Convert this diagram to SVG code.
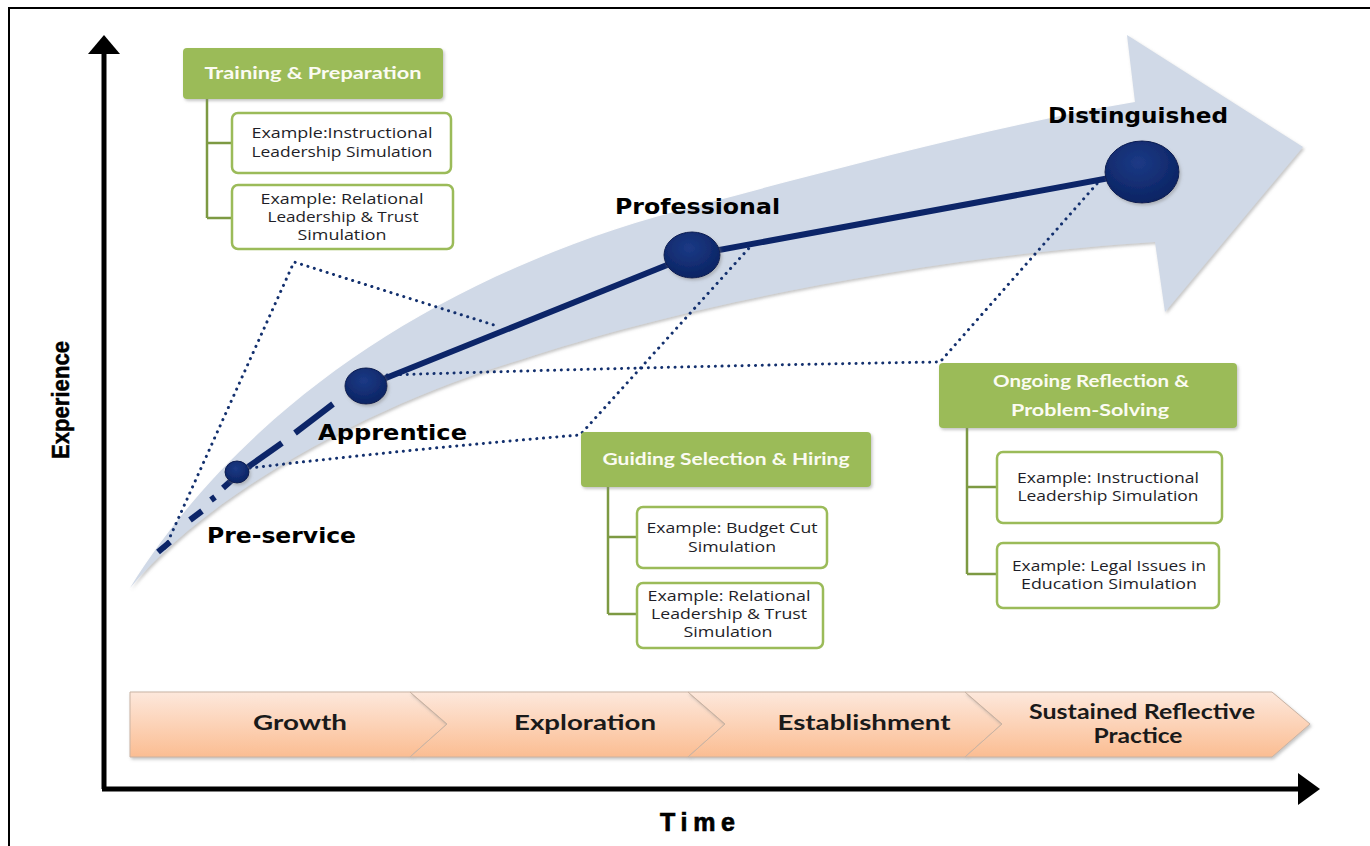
<svg xmlns="http://www.w3.org/2000/svg" width="1370" height="846" viewBox="0 0 1370 846">
<defs>
<style>
.hdr{fill:#9bbb59;}
.hdrt{font-family:Lato,"Open Sans",sans-serif;font-weight:bold;font-size:17px;fill:#fbfbf2;text-anchor:middle;}
.box{fill:#ffffff;stroke:#9bbb59;stroke-width:2.5;}
.ext{font-family:"Open Sans",Lato,sans-serif;font-size:14px;fill:#1e1e28;text-anchor:middle;}
.tree{fill:none;stroke:#7d9a43;stroke-width:2.5;}
.lbl{font-family:"DejaVu Sans",Verdana,sans-serif;font-weight:bold;font-size:21px;fill:#000;}
.dot{fill:none;stroke:#13306e;stroke-width:3;stroke-linecap:round;stroke-dasharray:0.1 6.6;}
.path{stroke:#0c2568;stroke-width:6;stroke-linecap:butt;fill:none;}
.chev{fill:url(#peach);stroke:#c9b3a3;stroke-width:1;}
.ct{font-family:Lato,"Open Sans",sans-serif;font-weight:bold;font-size:20px;fill:#1a1a1a;text-anchor:middle;}
.node{fill:url(#navy);stroke:#081d52;stroke-width:1;}
</style>
<linearGradient id="peach" x1="0" y1="0" x2="0" y2="1">
<stop offset="0" stop-color="#fde8dc"/>
<stop offset="1" stop-color="#fbbd92"/>
</linearGradient>
<radialGradient id="navy" cx="0.45" cy="0.35" r="0.7">
<stop offset="0" stop-color="#1c3a86"/>
<stop offset="1" stop-color="#0a2260"/>
</radialGradient>
<filter id="sh" x="-10%" y="-10%" width="130%" height="130%">
<feDropShadow dx="1.5" dy="2" stdDeviation="1.5" flood-color="#808080" flood-opacity="0.45"/>
</filter>
</defs>
<rect width="1370" height="846" fill="#ffffff"/>
<!-- frame -->
<path d="M9,846 L9,8 L1370,8" fill="none" stroke="#000" stroke-width="2"/>
<!-- axes -->
<g id="axes">
<line x1="104" y1="52" x2="104" y2="789" stroke="#000" stroke-width="5"/>
<polygon points="104,35 120,54 88,54" fill="#000"/>
<line x1="102" y1="789" x2="1302" y2="789" stroke="#000" stroke-width="5"/>
<polygon points="1320,789 1298,773 1298,805" fill="#000"/>
<text x="0" y="0" transform="translate(69,400) rotate(-90)" font-family="'Liberation Sans',Arial,sans-serif" font-weight="bold" font-size="23" text-anchor="middle" stroke="#000" stroke-width="0.5" textLength="118" lengthAdjust="spacingAndGlyphs">Experience</text>
<text x="660" y="831" font-family="'Liberation Sans',Arial,sans-serif" font-weight="bold" font-size="25" stroke="#000" stroke-width="0.7" textLength="75" lengthAdjust="spacing">Time</text>
</g>
<!-- big curved arrow -->
<g id="band">
<path d="M130,588 C240,410 440,270 700,205 C850,165 1000,125 1135,102 L1127,35 L1303,147 L1165,312 L1155,242 C950,255 700,300 520,360 C400,395 220,480 130,588 Z" fill="#d0d9e7" filter="url(#sh)"/>
</g>
<!-- connectors -->
<g id="connectors">
<polyline class="dot" points="165,548 294,262 497,326"/>
<path class="dot" d="M250,468 Q420,448 580,435 L750,247"/>
<path class="dot" d="M387,375 Q680,366 940,362 L1102,178"/>
<line class="path" x1="158" y1="552" x2="170" y2="542"/>
<line class="path" x1="190" y1="520" x2="202" y2="511"/>
<line class="path" x1="211" y1="500" x2="215" y2="497"/>
<line class="path" x1="223" y1="488" x2="232" y2="480"/>
<line class="path" x1="248" y1="467" x2="282" y2="443"/>
<line class="path" x1="295" y1="433" x2="333" y2="404"/>
<line class="path" x1="366" y1="386" x2="692" y2="255"/>
<line class="path" x1="692" y1="255" x2="1142" y2="172"/>
</g>
<!-- milestone nodes -->
<g id="preservice">
<ellipse class="node" cx="237" cy="472" rx="12" ry="11" filter="url(#sh)"/>
<text class="lbl" x="207" y="543" textLength="149" lengthAdjust="spacingAndGlyphs">Pre-service</text>
</g>
<g id="apprentice">
<ellipse class="node" cx="366" cy="386" rx="21" ry="18" filter="url(#sh)"/>
<text class="lbl" x="318" y="440" textLength="149" lengthAdjust="spacingAndGlyphs">Apprentice</text>
</g>
<g id="professional">
<ellipse class="node" cx="692" cy="255" rx="28" ry="23" filter="url(#sh)"/>
<text class="lbl" x="615" y="214" textLength="165" lengthAdjust="spacingAndGlyphs">Professional</text>
</g>
<g id="distinguished">
<ellipse class="node" cx="1142" cy="172" rx="37" ry="31" filter="url(#sh)"/>
<text class="lbl" x="1048" y="123" textLength="180" lengthAdjust="spacingAndGlyphs">Distinguished</text>
</g>
<!-- Training & Preparation -->
<g id="training">
<path class="tree" d="M207,99 V218 M207,143 H232 M207,218 H232"/>
<rect class="hdr" x="183" y="48" width="260" height="51" rx="4" filter="url(#sh)"/>
<text class="hdrt" x="313" y="79" textLength="217" lengthAdjust="spacingAndGlyphs">Training &amp; Preparation</text>
<rect class="box" x="232" y="113" width="219" height="60" rx="6"/>
<text class="ext" x="342" y="138" textLength="181" lengthAdjust="spacingAndGlyphs">Example:Instructional</text>
<text class="ext" x="342" y="157" textLength="181" lengthAdjust="spacingAndGlyphs">Leadership Simulation</text>
<rect class="box" x="232" y="185" width="221" height="64" rx="6"/>
<text class="ext" x="342" y="204" textLength="163" lengthAdjust="spacingAndGlyphs">Example: Relational</text>
<text class="ext" x="343" y="222" textLength="151" lengthAdjust="spacingAndGlyphs">Leadership &amp; Trust</text>
<text class="ext" x="342" y="240" textLength="89" lengthAdjust="spacingAndGlyphs">Simulation</text>
</g>
<!-- Guiding Selection & Hiring -->
<g id="guiding">
<path class="tree" d="M608,487 V614 M608,537 H637 M608,614 H637"/>
<rect class="hdr" x="581" y="432" width="290" height="55" rx="4" filter="url(#sh)"/>
<text class="hdrt" x="726" y="465" textLength="247" lengthAdjust="spacingAndGlyphs">Guiding Selection &amp; Hiring</text>
<rect class="box" x="637" y="507" width="190" height="61" rx="6"/>
<text class="ext" x="732" y="533" textLength="171" lengthAdjust="spacingAndGlyphs">Example: Budget Cut</text>
<text class="ext" x="732" y="552" textLength="88" lengthAdjust="spacingAndGlyphs">Simulation</text>
<rect class="box" x="637" y="583" width="186" height="65" rx="6"/>
<text class="ext" x="729" y="601" textLength="163" lengthAdjust="spacingAndGlyphs">Example: Relational</text>
<text class="ext" x="729" y="619" textLength="156" lengthAdjust="spacingAndGlyphs">Leadership &amp; Trust</text>
<text class="ext" x="728" y="637" textLength="89" lengthAdjust="spacingAndGlyphs">Simulation</text>
</g>
<!-- Ongoing Reflection & Problem-Solving -->
<g id="ongoing">
<path class="tree" d="M967,428 V574 M967,487 H997 M967,574 H997"/>
<rect class="hdr" x="939" y="363" width="298" height="65" rx="4" filter="url(#sh)"/>
<text class="hdrt" x="1091" y="387" textLength="196" lengthAdjust="spacingAndGlyphs">Ongoing Reflection &amp;</text>
<text class="hdrt" x="1090" y="416" textLength="158" lengthAdjust="spacingAndGlyphs">Problem-Solving</text>
<rect class="box" x="997" y="452" width="225" height="71" rx="6"/>
<text class="ext" x="1108" y="483" textLength="182" lengthAdjust="spacingAndGlyphs">Example: Instructional</text>
<text class="ext" x="1108" y="501" textLength="181" lengthAdjust="spacingAndGlyphs">Leadership Simulation</text>
<rect class="box" x="997" y="543" width="222" height="65" rx="6"/>
<text class="ext" x="1109" y="571" textLength="194" lengthAdjust="spacingAndGlyphs">Example: Legal Issues in</text>
<text class="ext" x="1109" y="589" textLength="176" lengthAdjust="spacingAndGlyphs">Education Simulation</text>
</g>
<!-- stages -->
<g id="stage-growth">
<path class="chev" d="M130,692 H410 L447,724 L410,757 H130 Z" filter="url(#sh)"/>
<text class="ct" x="300" y="730" textLength="94" lengthAdjust="spacingAndGlyphs">Growth</text>
</g>
<g id="stage-exploration">
<path class="chev" d="M410,692 H688 L725,724 L688,757 H410 L447,724 Z" filter="url(#sh)"/>
<text class="ct" x="585" y="730" textLength="142" lengthAdjust="spacingAndGlyphs">Exploration</text>
</g>
<g id="stage-establishment">
<path class="chev" d="M688,692 H965 L1002,724 L965,757 H688 L725,724 Z" filter="url(#sh)"/>
<text class="ct" x="864" y="730" textLength="173" lengthAdjust="spacingAndGlyphs">Establishment</text>
</g>
<g id="stage-sustained">
<path class="chev" d="M965,692 H1272 L1310,724 L1272,757 H965 L1002,724 Z" filter="url(#sh)"/>
<text class="ct" x="1142" y="719" textLength="226" lengthAdjust="spacingAndGlyphs">Sustained Reflective</text>
<text class="ct" x="1138" y="743" textLength="89" lengthAdjust="spacingAndGlyphs">Practice</text>
</g>
</svg>
